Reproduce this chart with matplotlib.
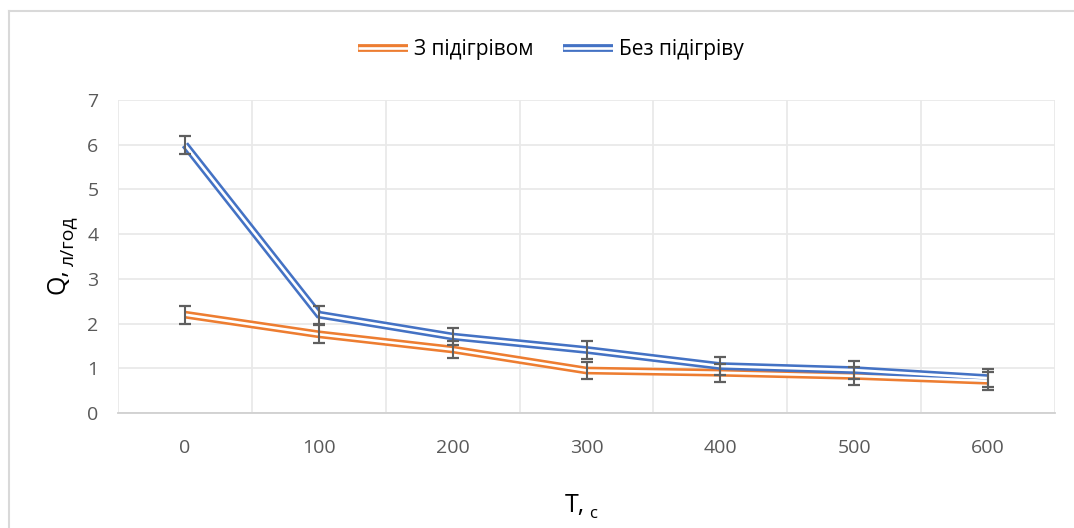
# flow rate Q against time T, with and without heating
# excel-style "double" lines: a thick coloured stroke with a thin white one on top

import numpy as np
import matplotlib.pyplot as plt
from matplotlib.lines import Line2D
from matplotlib.legend_handler import HandlerTuple

plt.rcParams['font.family'] = ['Open Sans', 'DejaVu Sans']

t_labels = ["0", "100", "200", "300", "400", "500", "600"]
q_heated = [2.2, 1.76, 1.42, 0.95, 0.9, 0.83, 0.72]
q_plain = [6.0, 2.2, 1.71, 1.41, 1.05, 0.96, 0.78]
err_heated = [0.2, 0.2, 0.2, 0.2, 0.2, 0.2, 0.2]
err_plain = [0.2, 0.2, 0.2, 0.2, 0.2, 0.2, 0.2]

orange = "#ED7D31"
blue = "#4472C4"
grey_txt = "#595959"
grid_c = "#e9e9e9"
outer_w = 5.6
inner_w = 1.9

fig = plt.figure(figsize=(10.74, 5.28), dpi=100)
ax = fig.add_axes([118/1074, 1 - 413/528, 937/1074, 313/528])

x = np.arange(len(t_labels))

def double_line(xs, ys, col):
    ax.plot(xs, ys, color=col, lw=outer_w, solid_joinstyle='miter', solid_capstyle='butt', zorder=3)
    ax.plot(xs, ys, color="white", lw=inner_w, solid_joinstyle='miter', solid_capstyle='butt', zorder=4)

double_line(x, q_heated, orange)
double_line(x, q_plain, blue)

for ys, es in [(q_heated, err_heated), (q_plain, err_plain)]:
    ax.errorbar(x, ys, yerr=es, fmt='none', ecolor="#5f5f5f", elinewidth=1.5,
                capsize=4.3, capthick=1.6, zorder=5)

ax.set_xlim(-0.5, len(t_labels) - 0.5)
ax.set_ylim(0, 7)
ax.set_xticks(x)
ax.set_xticklabels(t_labels)
ax.set_yticks(range(0, 8))
ax.set_xticks(np.arange(-0.5, len(t_labels)), minor=True)
ax.tick_params(axis='both', which='both', length=0, labelsize=14, colors=grey_txt)
ax.tick_params(axis='x', pad=19)
ax.tick_params(axis='y', pad=14)

ax.grid(axis='y', which='major', color=grid_c, lw=1.3)
ax.grid(axis='x', which='minor', color=grid_c, lw=1.3)
ax.grid(axis='x', which='major', visible=False)
ax.set_axisbelow(True)
for s in ['top', 'right', 'left']:
    ax.spines[s].set_visible(False)
ax.spines['bottom'].set_color("#d0d0d0")
ax.spines['bottom'].set_linewidth(1.3)

# axis titles with the unit set lower and smaller
fig.text(585/1074, 1 - 512/528, "T,", fontsize=18, ha='right', va='baseline', color="black")
fig.text(589/1074, 1 - 518/528, "с", fontsize=12, ha='left', va='baseline', color="black")
fig.text(70/1074, 1 - 294/528, "Q,", fontsize=18, rotation=90, ha='right', va='bottom', color="black")
fig.text(77/1074, 1 - 266/528, "л/год", fontsize=14, rotation=90, ha='right', va='bottom', color="black")

# legend handles: same double stroke
def dbl_handle(col):
    return (Line2D([], [], color=col, lw=outer_w, solid_capstyle='butt'),
            Line2D([], [], color="white", lw=inner_w, solid_capstyle='butt'))

fig.legend([dbl_handle(orange), dbl_handle(blue)], ["З підігрівом", "Без підігріву"],
           handler_map={tuple: HandlerTuple(ndivide=1)},
           loc='center', bbox_to_anchor=(551/1074, 1 - 50/528), ncol=2, frameon=False,
           fontsize=15, handlelength=2.4, handletextpad=0.3, columnspacing=1.4)

# chart border, only its left and top edges fall inside the image
fig.add_artist(Line2D([8.5/1074, 8.5/1074], [0, 1 - 10.5/528], transform=fig.transFigure,
                      color="#d9d9d9", lw=1.5))
fig.add_artist(Line2D([8.5/1074, 1], [1 - 10.5/528, 1 - 10.5/528], transform=fig.transFigure,
                      color="#d9d9d9", lw=1.5))

fig.savefig("out.png", dpi=100)
